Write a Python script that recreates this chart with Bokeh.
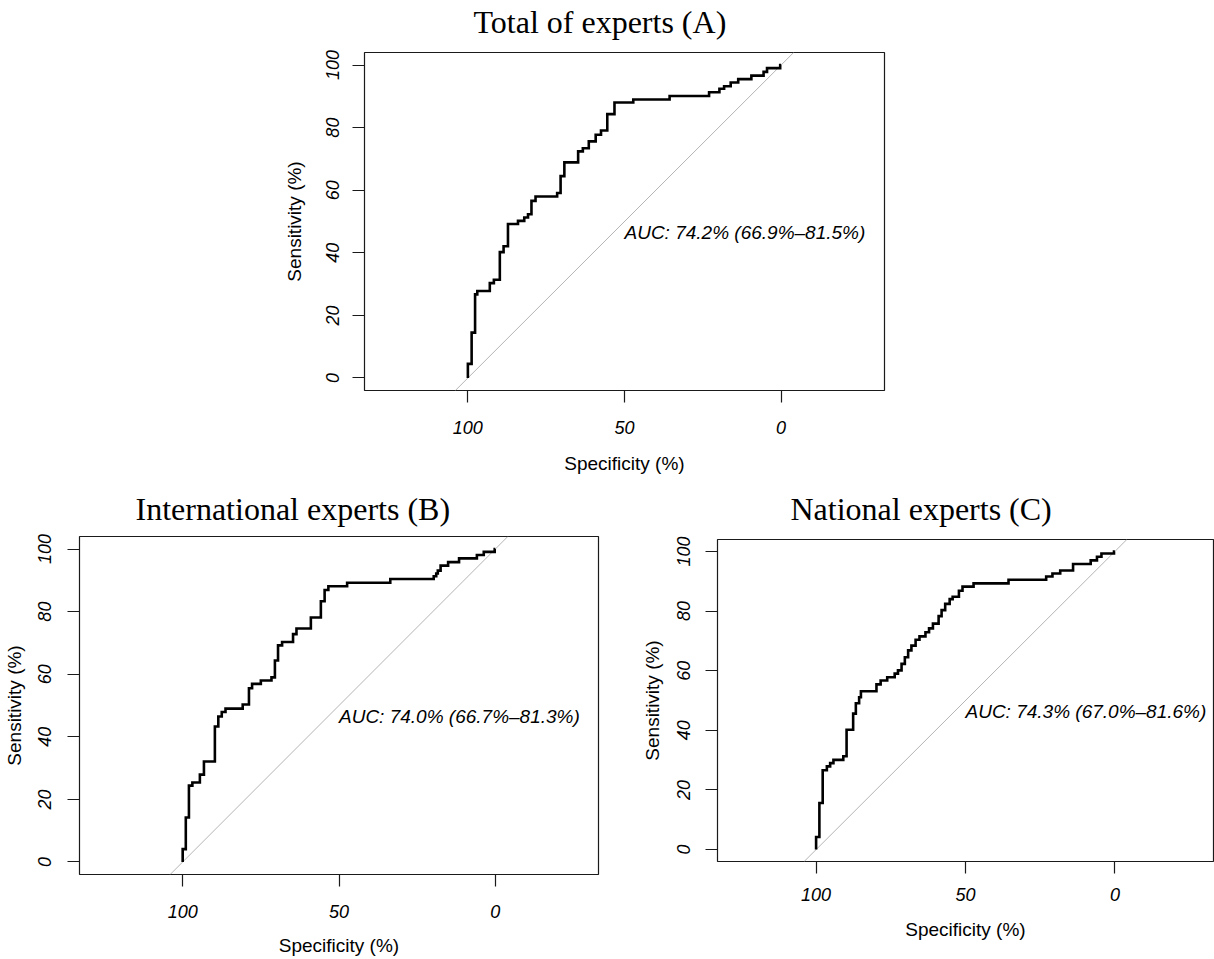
import numpy as np
from bokeh.plotting import figure
from bokeh.models import Range1d, FixedTicker, Label, Title, Spacer
from bokeh.layouts import column, row
from bokeh.embed import file_html
from bokeh.resources import INLINE

# ---------------- data ----------------
titles = ["Total of experts (A)", "International experts (B)", "National experts (C)"]
auc_texts = ["AUC: 74.2% (66.9%\u201381.5%)",
             "AUC: 74.0% (66.7%\u201381.3%)",
             "AUC: 74.3% (67.0%\u201381.6%)"]
x_ticks = [100, 50, 0]
y_ticks = [0, 20, 40, 60, 80, 100]
x_label = "Specificity (%)"
y_label = "Sensitivity (%)"

# ROC step curves: specificity (%) at which sensitivity rises, and sensitivity (%) after the rise
spec_A = [100, 98.8, 97.7, 97.0, 93.0, 91.7, 89.8, 88.6, 87.2, 84.0, 82.0, 80.8, 79.7, 78.4,
          71.5, 70.4, 69.2, 64.8, 63.3, 61.4, 59.2, 57.5, 55.5, 53.2, 47.2, 35.6, 23.0,
          19.7, 18.2, 16.1, 13.7, 9.5, 5.6, 4.5, 0.3]
sens_A = [4.5, 14.5, 26.7, 27.8, 30.3, 31.4, 40.2, 42.1, 49.2, 50.2, 51.3, 52.3, 56.6, 58.0,
          59.1, 64.5, 68.9, 72.4, 73.4, 75.6, 77.7, 79.1, 84.3, 88.0, 89.0, 90.1, 91.3,
          92.4, 93.2, 94.4, 95.5, 96.6, 97.8, 99.0, 100]

spec_B = [100, 99.0, 98.0, 96.9, 94.5, 93.2, 89.7, 88.6, 87.5, 86.3, 80.8, 78.8, 77.8, 75.0,
          71.6, 70.5, 69.5, 68.2, 64.7, 63.6, 59.0, 55.8, 54.6, 53.4, 47.4, 33.6, 19.7,
          18.9, 18.4, 17.5, 15.1, 11.6, 5.9, 3.7, 0.2]
sens_B = [4.1, 14.2, 24.4, 25.4, 27.9, 32.1, 43.3, 46.5, 47.9, 49.0, 50.3, 55.5, 56.9, 58.0,
          59.0, 64.4, 69.2, 70.3, 72.8, 74.6, 78.1, 83.3, 86.9, 88.1, 89.2, 90.4, 91.3,
          92.2, 93.1, 94.7, 95.8, 97.0, 98.1, 99.1, 100]

spec_C = [100, 98.9, 97.8, 96.4, 95.3, 94.2, 90.9, 89.8, 87.6, 86.7, 85.6, 85.0, 79.8, 78.4,
          76.2, 73.7, 72.6, 71.4, 70.3, 69.2, 68.1, 66.7, 65.4, 63.4, 62.2, 60.9, 59.0,
          58.0, 56.8, 55.3, 54.3, 52.2, 51.0, 47.3, 35.6, 23.0, 20.9, 18.3, 14.0, 8.1,
          6.0, 4.5, 0.3]
sens_C = [4.2, 15.6, 26.6, 27.9, 29.0, 30.1, 31.3, 40.2, 45.6, 49.1, 51.1, 53.1, 55.4, 56.7,
          57.8, 59.0, 60.1, 62.3, 64.5, 66.8, 68.4, 70.4, 71.5, 72.9, 74.2, 75.8, 78.3,
          80.3, 82.4, 84.0, 84.8, 86.8, 88.2, 89.3, 90.5, 91.6, 92.6, 93.6, 95.8, 97.0,
          98.2, 99.3, 100]

X_RANGE = (133, -33)
Y_RANGE = (-4, 104)
AUC_POS = (50, 50)

SANS = "Liberation Sans"
SERIF = "Liberation Serif"


def step_path(spec, sens):
    xs, ys = [], []
    prev = 0.0
    for s, v in zip(spec, sens):
        xs += [s, s]
        ys += [prev, v]
        prev = v
    xs.append(0.0)
    ys.append(prev)
    return np.array(xs), np.array(ys)


def make_panel(title, auc, spec, sens, mb_left, frame_w, mb_right, mb_top, frame_h, mb_bottom,
               title_offset, title_gap, xl_standoff, xa_standoff, yl_standoff, ya_standoff):
    p = figure(width=mb_left + frame_w + mb_right, height=mb_top + frame_h + mb_bottom,
               x_range=Range1d(*X_RANGE), y_range=Range1d(*Y_RANGE),
               output_backend="svg", toolbar_location=None, title=None,
               min_border_left=mb_left, min_border_right=mb_right,
               min_border_top=mb_top, min_border_bottom=mb_bottom,
               background_fill_color="white", border_fill_color="white")
    # gap between frame and title, then the title itself
    p.add_layout(Title(text=" ", text_font_size="1px", standoff=title_gap), "above")
    p.add_layout(Title(text=title, align="left", offset=title_offset, standoff=0,
                       vertical_align="bottom", text_font=SERIF, text_font_size="32px",
                       text_font_style="normal", text_color="black"), "above")
    p.xgrid.visible = False
    p.ygrid.visible = False
    p.outline_line_color = "#1a1a1a"
    p.outline_line_width = 1.2

    for ax in (p.xaxis[0], p.yaxis[0]):
        ax.axis_line_color = None
        ax.major_tick_line_color = "#1a1a1a"
        ax.major_tick_line_width = 1.2
        ax.major_tick_in = 0
        ax.major_tick_out = 12
        ax.minor_tick_line_color = None
        ax.major_label_text_font = SANS
        ax.major_label_text_font_style = "italic"
        ax.major_label_text_font_size = "18px"
        ax.major_label_text_color = "black"
        ax.axis_label_text_font = SANS
        ax.axis_label_text_font_style = "normal"
        ax.axis_label_text_font_size = "19px"
        ax.axis_label_text_color = "black"

    p.xaxis.ticker = FixedTicker(ticks=x_ticks)
    p.yaxis.ticker = FixedTicker(ticks=y_ticks)
    p.xaxis.axis_label = x_label
    p.yaxis.axis_label = y_label
    p.yaxis.major_label_orientation = "vertical"
    p.xaxis.major_label_standoff = xl_standoff
    p.xaxis.axis_label_standoff = xa_standoff
    p.yaxis.major_label_standoff = yl_standoff
    p.yaxis.axis_label_standoff = ya_standoff

    # identity (chance) line across the plotted sensitivity range
    ylo, yhi = Y_RANGE
    p.line([100 - ylo, 100 - yhi], [ylo, yhi], line_color="#b4b4b4", line_width=1)

    xs, ys = step_path(spec, sens)
    p.line(xs, ys, line_color="black", line_width=2.6, line_join="miter")

    p.add_layout(Label(x=AUC_POS[0], y=AUC_POS[1], text=auc, text_align="left",
                       text_baseline="top", text_font=SANS, text_font_style="italic",
                       text_font_size="19px", text_color="black"))
    return p


pA = make_panel(titles[0], auc_texts[0], spec_A, sens_A,
                mb_left=94, frame_w=520, mb_right=20, mb_top=52, frame_h=340,
                mb_bottom=84, title_offset=109, title_gap=10,
                xl_standoff=18, xa_standoff=16, yl_standoff=13, ya_standoff=19)
pB = make_panel(titles[1], auc_texts[1], spec_B, sens_B,
                mb_left=79, frame_w=519, mb_right=32, mb_top=60, frame_h=338, mb_bottom=85,
                title_offset=56, title_gap=7,
                xl_standoff=18, xa_standoff=14, yl_standoff=16, ya_standoff=11)
pC = make_panel(titles[2], auc_texts[2], spec_C, sens_C,
                mb_left=87, frame_w=496, mb_right=1, mb_top=63, frame_h=322, mb_bottom=98,
                title_offset=73, title_gap=10,
                xl_standoff=14, xa_standoff=15, yl_standoff=15, ya_standoff=12)

layout = column(row(Spacer(width=270, height=pA.height), pA), row(column(pB), column(pC)))

open("out.html", "w").write(file_html(layout, INLINE))
